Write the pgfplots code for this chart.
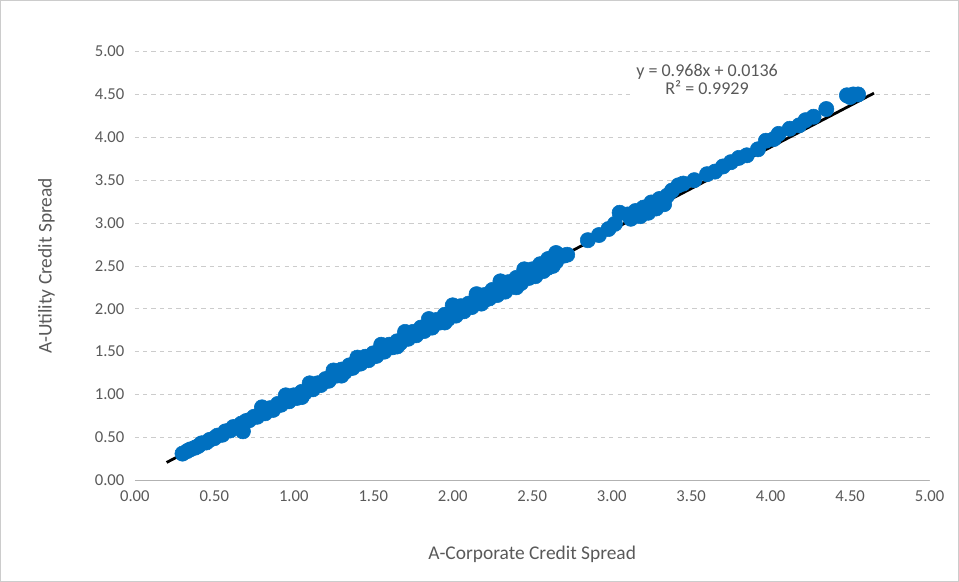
\documentclass[border=0pt]{standalone}
\usepackage{pgfplots}
\pgfplotsset{compat=1.18}
\usepackage{fontspec}
\setmainfont{Carlito}
\definecolor{txt}{RGB}{89,89,89}
\definecolor{dot}{RGB}{0,112,192}
\begin{document}
\begin{tikzpicture}
\begin{axis}[name=ax, scale only axis, width=573pt, height=309pt,
 xmin=0, xmax=5, ymin=0, ymax=5,
 xtick={0,0.5,...,5}, ytick={0,0.5,...,5},
 /pgf/number format/.cd, fixed, fixed zerofill, precision=2, assume math mode=true, /pgfplots/.cd,
 ymajorgrids, grid style={dashed, gray!40},
 axis line style={draw=none}, tick style={draw=none},
 ticklabel style={font=\fontsize{12}{12}\selectfont, text=txt},
 xticklabel style={yshift=-4pt}, yticklabel style={xshift=-4pt},
 xlabel={A-Corporate Credit Spread}, ylabel={A-Utility Credit Spread},
 label style={font=\fontsize{14}{14}\selectfont, text=txt},
 xlabel style={yshift=-25pt}, ylabel style={yshift=22pt}]
\draw[gray!60] (axis cs:0,0) -- (axis cs:5,0);
\addplot[only marks, mark=*, mark size=5.5pt, color=dot] coordinates {
(0.30,0.31)(0.33,0.34)(0.35,0.36)(0.38,0.38)(0.40,0.40)(0.42,0.43)(0.45,0.44)(0.47,0.47)(0.50,0.49)(0.52,0.52)(0.55,0.53)(0.57,0.57)(0.60,0.58)(0.62,0.62)(0.65,0.62)(0.67,0.66)(0.68,0.57)(0.70,0.69)(0.72,0.70)(0.75,0.74)(0.77,0.74)(0.80,0.80)(0.82,0.78)(0.85,0.84)(0.87,0.82)(0.90,0.89)(0.92,0.88)(0.95,0.94)(0.97,0.92)(1.00,0.99)(1.02,0.96)(1.05,1.03)(1.07,1.02)(1.10,1.08)(1.12,1.06)(1.15,1.13)(1.17,1.11)(1.20,1.18)(1.22,1.16)(1.25,1.23)(1.27,1.22)(1.30,1.29)(1.32,1.26)(1.35,1.34)(1.37,1.31)(1.40,1.38)(1.42,1.36)(1.45,1.44)(1.47,1.40)(1.50,1.48)(1.52,1.45)(1.55,1.54)(1.57,1.50)(1.60,1.58)(1.62,1.55)(1.65,1.62)(1.67,1.60)(1.70,1.68)(1.72,1.65)(1.75,1.73)(1.77,1.69)(1.80,1.78)(1.82,1.74)(1.85,1.83)(1.87,1.78)(1.90,1.87)(1.92,1.84)(1.95,1.93)(1.97,1.88)(2.00,1.98)(2.02,1.92)(2.05,2.03)(2.07,1.97)(2.10,2.06)(2.12,2.02)(2.15,2.11)(2.18,2.06)(2.20,2.16)(2.23,2.12)(2.25,2.22)(2.28,2.16)(2.30,2.26)(2.33,2.20)(2.35,2.31)(2.38,2.26)(2.40,2.36)(2.43,2.30)(2.45,2.40)(2.48,2.36)(2.50,2.46)(2.52,2.38)(2.55,2.52)(2.57,2.44)(2.60,2.58)(2.63,2.50)(2.65,2.55)(2.70,2.62)(2.72,2.63)(2.85,2.80)(2.92,2.86)(2.98,2.93)(3.02,2.99)(3.05,3.12)(3.10,3.10)(3.12,3.05)(3.15,3.14)(3.18,3.08)(3.20,3.18)(3.23,3.12)(3.25,3.24)(3.28,3.17)(3.30,3.28)(3.33,3.22)(3.35,3.32)(3.38,3.38)(3.42,3.44)(3.45,3.46)(3.52,3.50)(3.60,3.57)(3.65,3.60)(3.70,3.66)(3.75,3.71)(3.80,3.76)(3.85,3.79)(3.92,3.86)(3.97,3.96)(4.02,3.98)(4.05,4.04)(4.12,4.10)(4.18,4.14)(4.22,4.20)(4.27,4.24)(4.35,4.33)(4.48,4.49)(4.52,4.50)(4.55,4.50)(4.50,4.47)
(0.80,0.85)(0.95,0.99)(1.10,1.13)(1.25,1.28)(1.40,1.43)(1.55,1.58)(1.70,1.73)(1.85,1.88)(2.00,2.04)(2.15,2.17)(2.30,2.32)(2.45,2.46)(2.20,2.10)(1.95,1.84)(1.65,1.56)(1.30,1.22)(1.05,0.97)(2.60,2.48)(2.65,2.65)(2.40,2.25)
};
\addplot[black, line width=2pt] coordinates {(0.2,0.207) (4.65,4.515)};
\node[fill=white, text=txt, font=\fontsize{13}{13}\selectfont, align=center, inner sep=2pt] at (axis cs:3.6,4.68) {y = 0.968x + 0.0136\\R² = 0.9929};
\end{axis}
\draw[gray!40] ([xshift=-97pt,yshift=-73pt]ax.south west) rectangle ([xshift=21pt,yshift=37pt]ax.north east);
\end{tikzpicture}
\end{document}
